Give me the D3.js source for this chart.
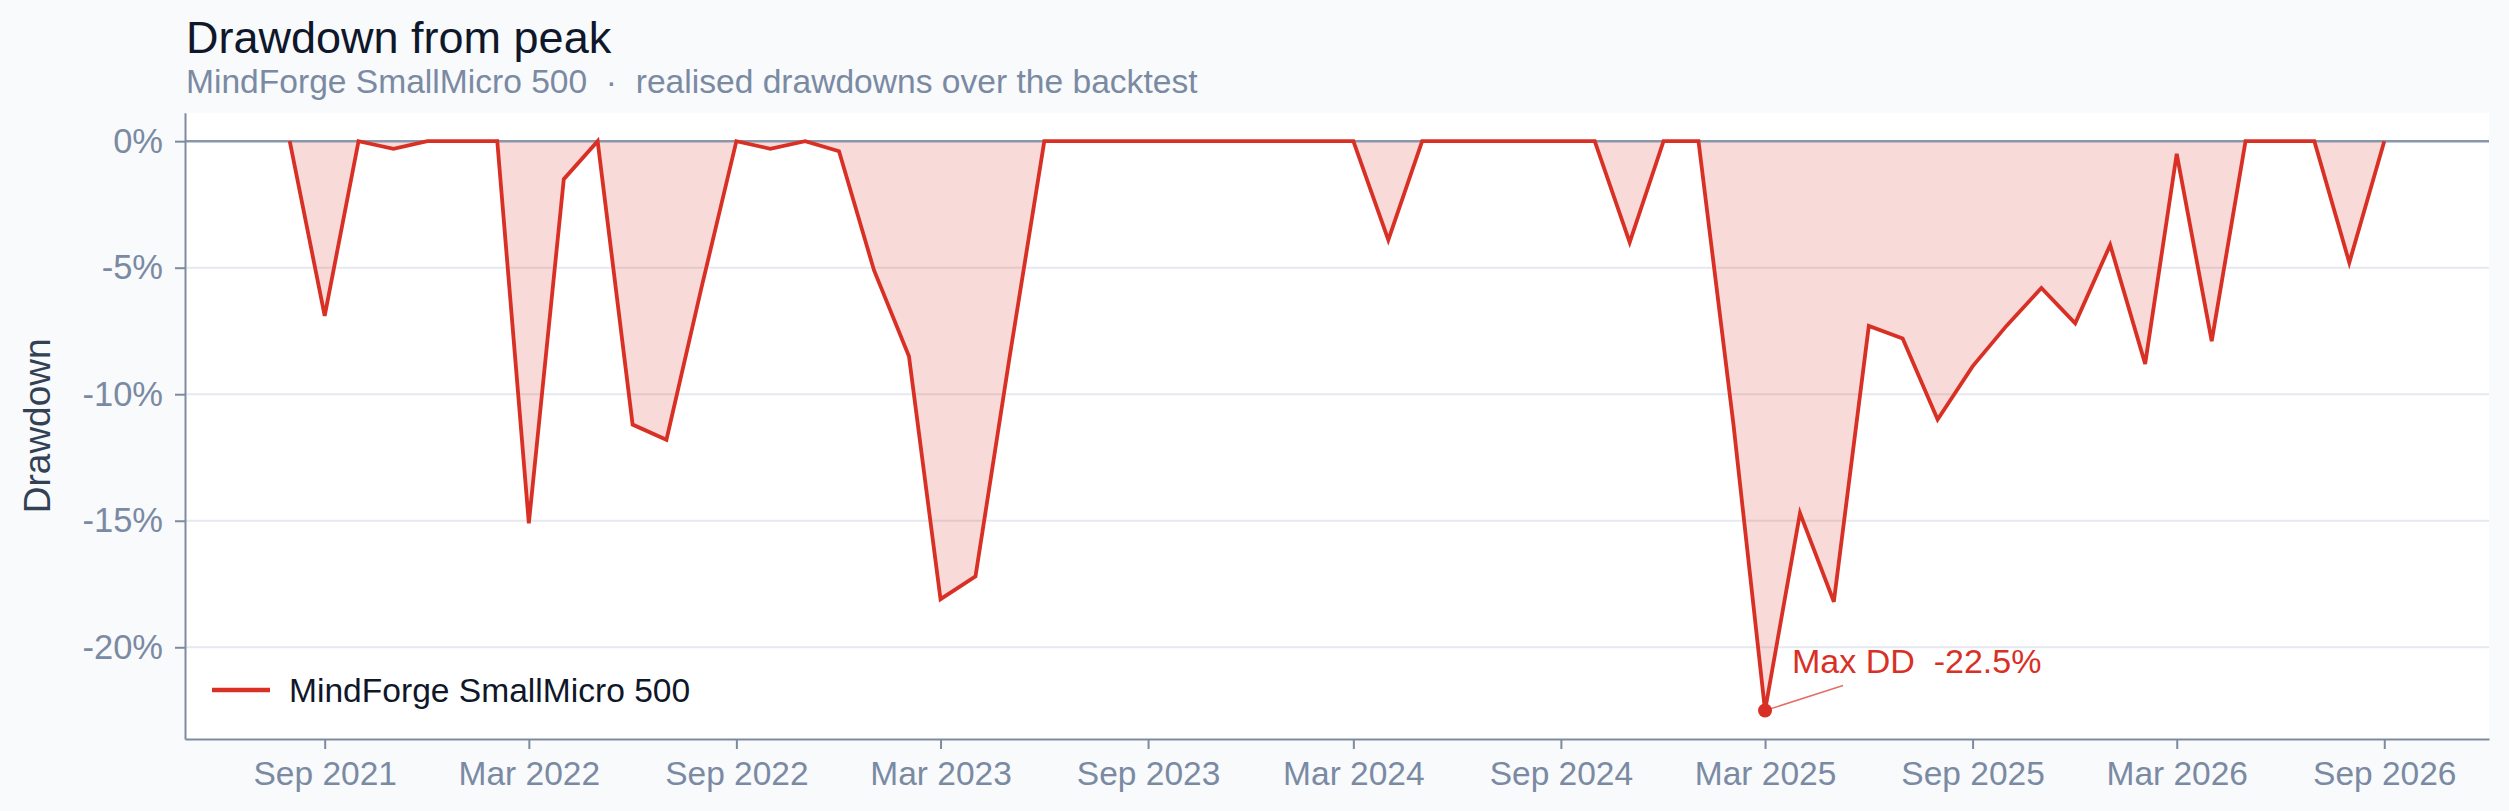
<!DOCTYPE html>
<html>
<head>
<meta charset="utf-8">
<script src="https://cdn.jsdelivr.net/npm/d3@7"></script>
<style>
  body { margin: 0; background: #f8fafc; }
  svg { display: block; font-family: "Liberation Sans", Arial, sans-serif; }
</style>
</head>
<body>
<svg id="chart"></svg>
<script>
// månadsdata, första dagen i varje månad
var months = [
  "2021-08","2021-09","2021-10","2021-11","2021-12",
  "2022-01","2022-02","2022-03","2022-04","2022-05","2022-06","2022-07","2022-08","2022-09","2022-10","2022-11","2022-12",
  "2023-01","2023-02","2023-03","2023-04","2023-05","2023-06","2023-07","2023-08","2023-09","2023-10","2023-11","2023-12",
  "2024-01","2024-02","2024-03","2024-04","2024-05","2024-06","2024-07","2024-08","2024-09","2024-10","2024-11","2024-12",
  "2025-01","2025-02","2025-03","2025-04","2025-05","2025-06","2025-07","2025-08","2025-09","2025-10","2025-11","2025-12",
  "2026-01","2026-02","2026-03","2026-04","2026-05","2026-06","2026-07","2026-08","2026-09"
];
// drawdown i procent
var drawdown = [
  0, -6.9, 0, -0.3, 0,
  0, 0, -15.1, -1.5, 0, -11.2, -11.8, -5.8, 0, -0.3, 0, -0.4,
  -5.1, -8.5, -18.1, -17.2, -8.6, 0, 0, 0, 0, 0, 0, 0,
  0, 0, 0, -3.9, 0, 0, 0, 0, 0, 0, -4.0, 0,
  0, -11.2, -22.5, -14.7, -18.2, -7.3, -7.8, -11.0, -8.9, -7.3, -5.8, -7.2,
  -4.1, -8.8, -0.5, -7.9, 0, 0, 0, -4.8, 0
];
var yTicks = [0, -5, -10, -15, -20];
var seriesName = "MindForge SmallMicro 500";
var titleText = "Drawdown from peak";
var subtitleText = "MindForge SmallMicro 500  \u00b7  realised drawdowns over the backtest";

draw();

function draw() {
var W = 2509, H = 811;
var mLeft = 185, mRight = 2489, mTop = 112.7, mBottom = 739;
var red = "#d93025";

var parse = d3.utcParse("%Y-%m");
var data = months.map(function(m, i) { return { date: parse(m), value: drawdown[i] }; });

var svg = d3.select("#chart").attr("width", W).attr("height", H);

// 5% luft på båda sidor
var t0 = data[0].date, t1 = data[data.length - 1].date;
var padT = (t1 - t0) * 0.05;
var x = d3.scaleUtc()
  .domain([new Date(+t0 - padT), new Date(+t1 + padT)])
  .range([mLeft, mRight]);

var minV = d3.min(drawdown), maxV = d3.max(drawdown);
var padV = (maxV - minV) * 0.05;
var y = d3.scaleLinear()
  .domain([minV - padV, maxV + padV])
  .range([mBottom, mTop]);

// plottyta
svg.append("rect")
  .attr("x", mLeft).attr("y", mTop)
  .attr("width", mRight - mLeft).attr("height", mBottom - mTop)
  .attr("fill", "#ffffff");

// rutnät
svg.append("g").selectAll("line")
  .data(yTicks.filter(function(d) { return d !== 0; }))
  .enter().append("line")
  .attr("x1", mLeft).attr("x2", mRight)
  .attr("y1", function(d) { return y(d); })
  .attr("y2", function(d) { return y(d); })
  .attr("stroke", "#e6e9ef").attr("stroke-width", 2);

// ytan under noll
var area = d3.area()
  .x(function(d) { return x(d.date); })
  .y0(y(0))
  .y1(function(d) { return y(d.value); });
svg.append("path").datum(data)
  .attr("d", area)
  .attr("fill", red).attr("fill-opacity", 0.18);

// nollinje
svg.append("line")
  .attr("x1", mLeft).attr("x2", mRight)
  .attr("y1", y(0)).attr("y2", y(0))
  .attr("stroke", "#8a96a9").attr("stroke-width", 2.5);

var line = d3.line()
  .x(function(d) { return x(d.date); })
  .y(function(d) { return y(d.value); });
svg.append("path").datum(data)
  .attr("d", line)
  .attr("fill", "none")
  .attr("stroke", red).attr("stroke-width", 3.8)
  .attr("stroke-linejoin", "miter");

// axlar
var xTickVals = d3.utcMonth.range(x.domain()[0], x.domain()[1])
  .filter(function(d) { return d.getUTCMonth() === 2 || d.getUTCMonth() === 8; });

var xAxis = svg.append("g")
  .attr("transform", "translate(0," + mBottom + ")")
  .call(d3.axisBottom(x).tickValues(xTickVals).tickFormat(d3.utcFormat("%b %Y"))
    .tickSize(10).tickSizeOuter(0).tickPadding(12));

var yAxis = svg.append("g")
  .attr("transform", "translate(" + mLeft + ",0)")
  .call(d3.axisLeft(y).tickValues(yTicks).tickFormat(function(d) { return d + "%"; })
    .tickSize(10).tickSizeOuter(0).tickPadding(12));

[xAxis, yAxis].forEach(function(g) {
  g.select(".domain").attr("stroke", "#7d8ba1").attr("stroke-width", 2);
  g.selectAll(".tick line").attr("stroke", "#7d8ba1").attr("stroke-width", 2);
  g.selectAll(".tick text").attr("fill", "#7b8aa3")
    .style("font-family", "'Liberation Sans', Arial, sans-serif");
});
xAxis.selectAll(".tick text").style("font-size", "33.5px");
yAxis.selectAll(".tick text").style("font-size", "34.5px");

// titlar
svg.append("text").attr("x", 186).attr("y", 52.5)
  .attr("fill", "#0f172a").style("font-size", "45px").text(titleText);
svg.append("text").attr("x", 186).attr("y", 93)
  .attr("fill", "#7b8aa3").style("font-size", "33.6px").style("white-space", "pre")
  .text(subtitleText);

svg.append("text")
  .attr("transform", "translate(50," + ((mTop + mBottom) / 2) + ") rotate(-90)")
  .attr("text-anchor", "middle")
  .attr("fill", "#334155").style("font-size", "37px")
  .text("Drawdown");

// legend
svg.append("line").attr("x1", 212).attr("x2", 270).attr("y1", 690).attr("y2", 690)
  .attr("stroke", red).attr("stroke-width", 4.5);
svg.append("text").attr("x", 289).attr("y", 701.5)
  .attr("fill", "#0f172a").style("font-size", "33.6px").text(seriesName);

// max drawdown
var worst = data[d3.minIndex(data, function(d) { return d.value; })];
var wx = x(worst.date), wy = y(worst.value);
svg.append("line")
  .attr("x1", wx).attr("y1", wy)
  .attr("x2", wx + 78).attr("y2", wy - 25)
  .attr("stroke", red).attr("stroke-opacity", 0.7).attr("stroke-width", 1.5);
svg.append("circle").attr("cx", wx).attr("cy", wy).attr("r", 7).attr("fill", red);
svg.append("text").attr("x", wx + 27).attr("y", wy - 38)
  .attr("fill", red).style("font-size", "34px").style("white-space", "pre")
  .text("Max DD  " + worst.value.toFixed(1) + "%");
}
</script>
</body>
</html>
